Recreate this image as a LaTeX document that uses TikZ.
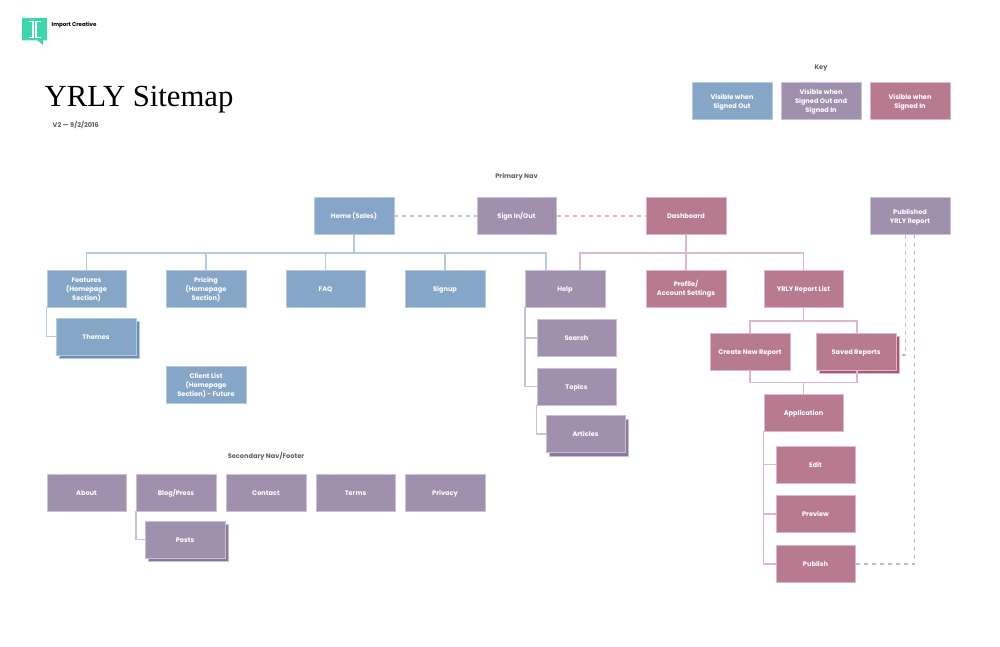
\documentclass[tikz,border=0pt]{standalone}
\usepackage{fontspec}
\setmainfont{Poppins}
\newfontfamily\titlefont{Liberation Serif}
\newcommand{\boxtext}[1]{\raisebox{-1pt}[\height][\depth]{\begin{tabular}{@{}c@{}}#1\end{tabular}}}
\definecolor{blueF}{HTML}{86A6C8}
\definecolor{purpF}{HTML}{A08FAD}
\definecolor{pinkF}{HTML}{B87A8E}
\definecolor{blueS}{HTML}{6A90BA}
\definecolor{purpS}{HTML}{8A789F}
\definecolor{pinkS}{HTML}{A85A78}
\definecolor{blueL}{HTML}{B4CADF}
\definecolor{purpL}{HTML}{C9C0D6}
\definecolor{pinkL}{HTML}{DFB8C6}
\definecolor{dashP}{HTML}{BDB8D4}
\definecolor{logoC}{HTML}{3DD6AC}
\tikzset{
  page box/.style={minimum width=79.5pt,minimum height=37pt,inner sep=0pt,
    text=white,font=\bfseries\fontsize{6.6}{9}\selectfont,line width=0.5pt},
  bluebox/.style={page box,fill=blueF,draw=blueL},
  purpbox/.style={page box,fill=purpF,draw=purpL},
  pinkbox/.style={page box,fill=pinkF,draw=pinkL},
  backbox/.style={minimum width=79.5pt,minimum height=37pt,inner sep=0pt,line width=0.5pt},
  heading/.style={text=black!62,font=\bfseries\fontsize{6.6}{9}\selectfont,inner sep=0pt},
  blueline/.style={draw=blueL,line width=1.5pt},
  purpline/.style={draw=purpL,line width=1.5pt},
  pinkline/.style={draw=pinkL,line width=1.5pt},
  dashlink/.style={line width=1.3pt,dash pattern=on 4pt off 4pt},
}
\begin{document}
\begin{tikzpicture}[x=1pt,y=-1pt]
\useasboundingbox (0,0) rectangle (1000,647);
% logo
\fill[logoC] (22,18) -- (47,18) -- (47,40.5) -- (43,40.5) -- (43,45) -- (37.5,40.5) -- (22,40.5) -- cycle;
\draw[white,line width=1.1pt] (28.5,21.5) -- (33,21.5) -- (33,37.5) -- (28.5,37.5);
\draw[white,line width=1.1pt] (40.5,21.5) -- (36,21.5) -- (36,37.5) -- (40.5,37.5);
\node[anchor=west,inner sep=0pt,text=black,font=\fontsize{5.5}{8}\selectfont\bfseries] (brand) at (51.5,25) {Import Creative};
\node[anchor=west,inner sep=0pt,text=black,font=\titlefont\fontsize{30.7}{34}\selectfont] (title) at (44.5,99.5) {YRLY Sitemap};
\node[heading,anchor=west] (version) at (52.5,124.5) {V2 — 9/2/2016};
\node[heading] (keyhead) at (821,68) {Key};
\node[heading] (primaryhead) at (516.5,177) {Primary Nav};
\node[heading] (secondaryhead) at (266,456) {Secondary Nav/Footer};
% key
\node[bluebox] (k1) at (732,101) {\boxtext{Visible when\\Signed Out}};
\node[purpbox] (k2) at (821,101) {\boxtext{Visible when\\Signed Out and\\Signed In}};
\node[pinkbox] (k3) at (910,101) {\boxtext{Visible when\\Signed In}};
% top row
\node[bluebox] (home) at (354,216) {\boxtext{Home (Sales)}};
\node[purpbox] (sign) at (516.5,216) {\boxtext{Sign In/Out}};
\node[pinkbox] (dash) at (686,216) {\boxtext{Dashboard}};
\node[purpbox] (pub) at (910,216) {\boxtext{Published\\YRLY Report}};
% second row
\node[bluebox] (feat) at (86.5,288.5) {\boxtext{Features\\(Homepage\\Section)}};
\node[bluebox] (pric) at (206,288.5) {\boxtext{Pricing\\(Homepage\\Section)}};
\node[bluebox] (faq) at (325.5,288.5) {\boxtext{FAQ}};
\node[bluebox] (signup) at (445,288.5) {\boxtext{Signup}};
\node[purpbox] (help) at (565,288.5) {\boxtext{Help}};
\node[pinkbox] (prof) at (686,288.5) {\boxtext{Profile/\\Account Settings}};
\node[pinkbox] (list) at (803.5,288.5) {\boxtext{YRLY Report List}};
% children
\node[backbox,fill=blueS,draw=blueL] (themesb) at (99,340) {};
\node[bluebox] (themes) at (96,336.5) {\boxtext{Themes}};
\node[bluebox] (client) at (206,384.5) {\boxtext{Client List\\(Homepage\\Section) - Future}};
\node[purpbox] (search) at (576.5,338) {\boxtext{Search}};
\node[purpbox] (topics) at (576.5,386.5) {\boxtext{Topics}};
\node[backbox,fill=purpS,draw=purpL] (articlesb) at (588.5,437.5) {};
\node[purpbox] (articles) at (585.5,434) {\boxtext{Articles}};
\node[pinkbox] (create) at (750,351.5) {\boxtext{Create New Report}};
\node[backbox,fill=pinkS,draw=pinkL] (savedb) at (859,355) {};
\node[pinkbox] (saved) at (856,351.5) {\boxtext{Saved Reports}};
\node[pinkbox] (app) at (803.5,412.5) {\boxtext{Application}};
\node[pinkbox] (edit) at (815.5,464.5) {\boxtext{Edit}};
\node[pinkbox] (prev) at (815.5,514) {\boxtext{Preview}};
\node[pinkbox] (publ) at (815.5,564) {\boxtext{Publish}};
% secondary
\node[purpbox] (about) at (86.5,492.5) {\boxtext{About}};
\node[purpbox] (blog) at (176,492.5) {\boxtext{Blog/Press}};
\node[purpbox] (cont) at (266,492.5) {\boxtext{Contact}};
\node[purpbox] (terms) at (355.5,492.5) {\boxtext{Terms}};
\node[purpbox] (priv) at (445,492.5) {\boxtext{Privacy}};
\node[backbox,fill=purpS,draw=purpL] (postsb) at (188,543) {};
\node[purpbox] (posts) at (185,539.5) {\boxtext{Posts}};
% connectors
\draw[blueline] (home.south) -- ++(0,18) coordinate (bbus) -| (feat.north);
\draw[blueline] (bbus) -| (pric.north);
\draw[blueline] (bbus) -| (faq.north);
\draw[blueline] (bbus) -| (signup.north);
\draw[blueline] (bbus) -| ([xshift=-19pt]help.north);
\draw[pinkline] (dash.south) -- ++(0,18) coordinate (pbus) -| ([xshift=15pt]help.north);
\draw[pinkline] (dash.south) -- (prof.north);
\draw[pinkline] (pbus) -| (list.north);
\draw[blueline] (feat.south west) |- (themes.west);
\draw[purpline] (help.south west) |- (search.west);
\draw[purpline] (help.south west) |- (topics.west);
\draw[purpline] (topics.south west) |- (articles.west);
\draw[purpline] (blog.south west) |- (posts.west);
\draw[pinkline] (list.south) -- ++(0,13.5) coordinate (tbus) -| (create.north);
\draw[pinkline] (tbus) -| ([xshift=1pt]saved.north);
\draw[pinkline] (create.south) -- ++(0,12) -| ([xshift=1pt]saved.south);
\draw[pinkline] (app.north) -- ++(0,-12);
\draw[pinkline] (app.south west) |- (edit.west);
\draw[pinkline] (app.south west) |- (prev.west);
\draw[pinkline] (app.south west) |- (publ.west);
\draw[blueL,dashlink] (home.east) -- (sign.west);
\draw[pinkL,dashlink] (sign.east) -- (dash.west);
\draw[dashP,dashlink] ([xshift=-4.5pt]pub.south) |- (savedb.east);
\draw[dashP,dashlink] ([xshift=4.5pt]pub.south) |- (publ.east);
\end{tikzpicture}
\end{document}
